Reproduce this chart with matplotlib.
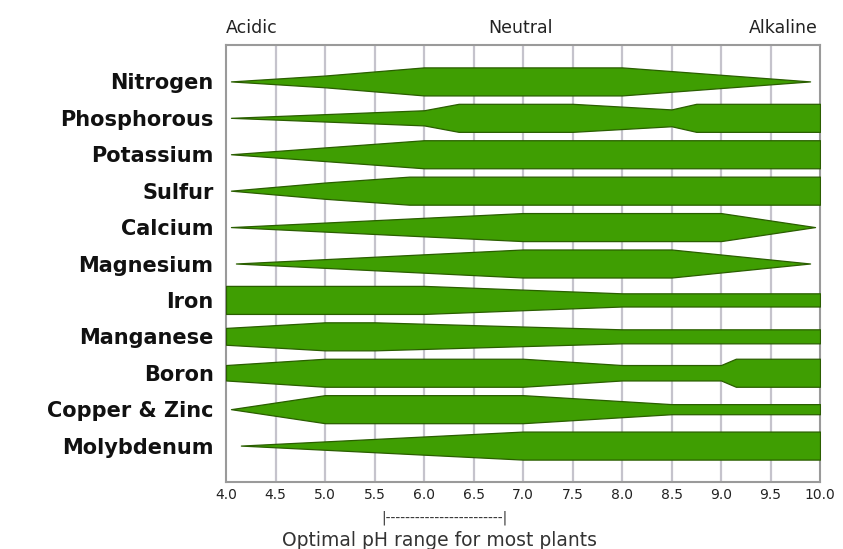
import numpy as np
import matplotlib
matplotlib.use("Agg")
import matplotlib.pyplot as plt

# nutrients, top to bottom
nutrients = ["Nitrogen", "Phosphorous", "Potassium", "Sulfur", "Calcium",
             "Magnesium", "Iron", "Manganese", "Boron", "Copper & Zinc",
             "Molybdenum"]

# band profile for each nutrient: pH break points and relative band width (1 = full)
nitrogen_ph = [4.05, 5.0, 6.0, 8.0, 9.9]
nitrogen_w = [0.0, 0.42, 1.0, 1.0, 0.0]
phosphorous_ph = [4.05, 6.0, 6.35, 7.5, 8.5, 8.75, 10.0]
phosphorous_w = [0.0, 0.54, 1.0, 1.0, 0.6, 1.0, 1.0]
potassium_ph = [4.05, 6.0, 10.0]
potassium_w = [0.0, 1.0, 1.0]
sulfur_ph = [4.05, 5.0, 5.85, 10.0]
sulfur_w = [0.0, 0.58, 1.0, 1.0]
calcium_ph = [4.05, 7.0, 9.0, 9.95]
calcium_w = [0.0, 1.0, 1.0, 0.0]
magnesium_ph = [4.1, 7.0, 8.5, 9.9]
magnesium_w = [0.0, 1.0, 1.0, 0.0]
iron_ph = [4.0, 6.0, 8.0, 10.0]
iron_w = [1.0, 1.0, 0.47, 0.47]
manganese_ph = [4.0, 5.0, 5.5, 8.0, 10.0]
manganese_w = [0.6, 1.0, 1.0, 0.5, 0.5]
boron_ph = [4.0, 5.0, 7.0, 8.0, 9.0, 9.15, 10.0]
boron_w = [0.55, 1.0, 1.0, 0.55, 0.55, 1.0, 1.0]
copper_ph = [4.05, 5.0, 7.0, 8.5, 10.0]
copper_w = [0.0, 1.0, 1.0, 0.36, 0.36]
molybdenum_ph = [4.15, 7.0, 10.0]
molybdenum_w = [0.0, 1.0, 1.0]

profiles = [(nitrogen_ph, nitrogen_w), (phosphorous_ph, phosphorous_w),
            (potassium_ph, potassium_w), (sulfur_ph, sulfur_w),
            (calcium_ph, calcium_w), (magnesium_ph, magnesium_w),
            (iron_ph, iron_w), (manganese_ph, manganese_w),
            (boron_ph, boron_w), (copper_ph, copper_w),
            (molybdenum_ph, molybdenum_w)]

ph_ticks = [4.0, 4.5, 5.0, 5.5, 6.0, 6.5, 7.0, 7.5, 8.0, 8.5, 9.0, 9.5, 10.0]

W, H = 843, 549
fig = plt.figure(figsize=(W / 100, H / 100), dpi=100)
ax = fig.add_axes([226 / W, 1 - 482 / H, 594 / W, 437 / H])

half = 0.385
green = "#3f9e02"
edge = "#2a5e00"

for i, (ph, w) in enumerate(profiles):
    ph = np.array(ph)
    w = np.array(w) * half
    ax.fill_between(ph, i - w, i + w, facecolor=green, edgecolor=edge,
                    linewidth=0.9, zorder=3)

# vertical grid
for x in ph_ticks[1:-1]:
    ax.axvline(x, color="#c5c3cc", lw=1.6, zorder=1)

ax.set_xlim(4.0, 10.0)
ax.set_ylim(11, -1)
ax.set_xticks(ph_ticks)
ax.set_xticklabels(["%.1f" % t for t in ph_ticks], fontsize=10, color="#222222")
ax.set_yticks(range(len(nutrients)))
ax.set_yticklabels(nutrients, fontsize=15, fontweight="bold", color="#111111")
ax.tick_params(axis="both", length=0)
ax.tick_params(axis="x", pad=4)
ax.tick_params(axis="y", pad=9)
for s in ax.spines.values():
    s.set_color("#9a9a9a")
    s.set_linewidth(1.5)

# top labels
fig.text(226 / W, 1 - 28 / H, "Acidic", fontsize=12.5, ha="left", va="center", color="#222222")
fig.text(520 / W, 1 - 28 / H, "Neutral", fontsize=12.5, ha="center", va="center", color="#222222")
fig.text(818 / W, 1 - 28 / H, "Alkaline", fontsize=12.5, ha="right", va="center", color="#222222")

# optimal range note
fig.text(444 / W, 1 - 518 / H, "|" + "-" * 24 + "|", fontsize=10,
         ha="center", va="center", color="#333333")
fig.text(440 / W, 1 - 540 / H, "Optimal pH range for most plants", fontsize=13.5,
         ha="center", va="center", color="#333333")

fig.savefig("out.png", dpi=100, facecolor="white")
